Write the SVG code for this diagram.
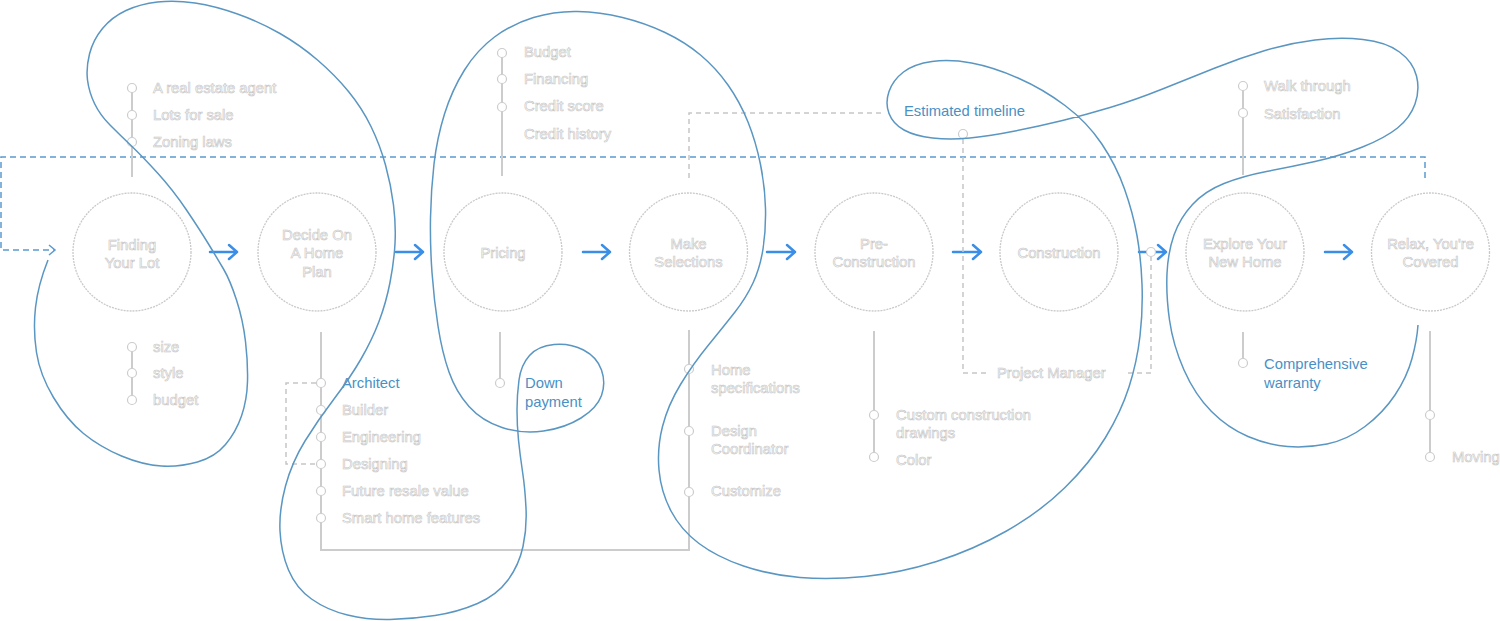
<svg xmlns="http://www.w3.org/2000/svg" width="1500" height="621" viewBox="0 0 1500 621">
<defs>
<style>
.t{font-family:"Liberation Sans",Arial,sans-serif;font-size:14.8px;fill:#fff;stroke:#c4c4c4;stroke-width:0.6px}
.b{font-family:"Liberation Sans",Arial,sans-serif;font-size:14.8px;fill:#4a90c5}
.c{text-anchor:middle}
.node{fill:none;stroke:#c9c9c9;stroke-width:1.3;stroke-dasharray:2 1}
.ln{fill:none;stroke:#cccccc;stroke-width:2}
.dot{fill:#fff;stroke:#cccccc;stroke-width:1.2}
.gd{fill:none;stroke:#c6c6c6;stroke-width:1.5;stroke-dasharray:5 4}
.bd{fill:none;stroke:#5b9bd0;stroke-width:1.5;stroke-dasharray:6 4}
.ar{fill:none;stroke:#3a8ee8;stroke-width:2.5;stroke-linecap:round;stroke-linejoin:round}
.blob{fill:none;stroke:#5a96c2;stroke-width:1.5}
</style>
</defs>
<rect width="1500" height="621" fill="#fff"/>

<g id="connectors">
<path class="bd" d="M1425,178 V157 H1 V250 H54"/>
<path fill="none" stroke="#5b9bd0" stroke-width="1.5" d="M49,245 L55,250 L49,255"/>
<path class="ar" d="M210,252 H237 M229,245 L237,252 L229,259"/>
<path class="ar" d="M396,252 H423 M415,245 L423,252 L415,259"/>
<path class="ar" d="M583,252 H610 M602,245 L610,252 L602,259"/>
<path class="ar" d="M767,252 H795 M787,245 L795,252 L787,259"/>
<path class="ar" d="M953,252 H981 M973,245 L981,252 L973,259"/>
<path class="ar" d="M1139,252 H1166 M1158,245 L1166,252 L1158,259"/>
<path class="ar" d="M1325,252 H1352 M1344,245 L1352,252 L1344,259"/>
<path class="gd" d="M689,178 V113 H885"/>
<path class="gd" d="M963,139 V373 H987"/>
<path class="gd" d="M1128,373 H1151 V257"/>
<circle class="dot" cx="963" cy="134" r="4.5"/>
<circle class="dot" cx="1151" cy="252" r="4.5"/>
<path class="gd" d="M316,383 H286 V464 H316"/>
<path class="ln" d="M321,332 V550 H689 V330"/>
</g>

<g id="n1">
<circle class="node" cx="132" cy="252" r="59"/>
<text class="t c" x="132" y="250">Finding</text>
<text class="t c" x="132" y="268">Your Lot</text>
<path class="ln" d="M132,88 V177"/>
<circle class="dot" cx="132" cy="88" r="4.5"/><circle class="dot" cx="132" cy="115" r="4.5"/><circle class="dot" cx="132" cy="142" r="4.5"/>
<text class="t" x="153" y="93">A real estate agent</text>
<text class="t" x="153" y="120">Lots for sale</text>
<text class="t" x="153" y="147">Zoning laws</text>
<path class="ln" d="M132,347 V400"/>
<circle class="dot" cx="132" cy="347" r="4.5"/><circle class="dot" cx="132" cy="373" r="4.5"/><circle class="dot" cx="132" cy="400" r="4.5"/>
<text class="t" x="153" y="352">size</text>
<text class="t" x="153" y="378">style</text>
<text class="t" x="153" y="405">budget</text>
</g>

<g id="n2">
<circle class="node" cx="317" cy="252" r="59"/>
<text class="t c" x="317" y="240">Decide On</text>
<text class="t c" x="317" y="258">A Home</text>
<text class="t c" x="317" y="277">Plan</text>
<circle class="dot" cx="321" cy="383" r="4.5"/><circle class="dot" cx="321" cy="410" r="4.5"/><circle class="dot" cx="321" cy="437" r="4.5"/>
<circle class="dot" cx="321" cy="464" r="4.5"/><circle class="dot" cx="321" cy="491" r="4.5"/><circle class="dot" cx="321" cy="518" r="4.5"/>
<text class="b" x="342" y="388">Architect</text>
<text class="t" x="342" y="415">Builder</text>
<text class="t" x="342" y="442">Engineering</text>
<text class="t" x="342" y="469">Designing</text>
<text class="t" x="342" y="496">Future resale value</text>
<text class="t" x="342" y="523">Smart home features</text>
</g>

<g id="n3">
<circle class="node" cx="503" cy="252" r="59"/>
<text class="t c" x="503" y="258">Pricing</text>
<path class="ln" d="M502,53 V176"/>
<circle class="dot" cx="502" cy="53" r="4.5"/><circle class="dot" cx="502" cy="79" r="4.5"/><circle class="dot" cx="502" cy="107" r="4.5"/>
<text class="t" x="524" y="57">Budget</text>
<text class="t" x="524" y="84">Financing</text>
<text class="t" x="524" y="111">Credit score</text>
<text class="t" x="524" y="139">Credit history</text>
<path class="ln" d="M500,332 V379"/>
<circle class="dot" cx="500" cy="383" r="4.5"/>
<text class="b" x="525" y="388">Down</text>
<text class="b" x="525" y="407">payment</text>
</g>

<g id="n4">
<circle class="node" cx="688.5" cy="252" r="59"/>
<text class="t c" x="688.5" y="249">Make</text>
<text class="t c" x="688.5" y="267">Selections</text>
<circle class="dot" cx="689" cy="369" r="4.5"/><circle class="dot" cx="689" cy="431" r="4.5"/><circle class="dot" cx="689" cy="492" r="4.5"/>
<text class="t" x="711" y="375">Home</text>
<text class="t" x="711" y="393">specifications</text>
<text class="t" x="711" y="436">Design</text>
<text class="t" x="711" y="454">Coordinator</text>
<text class="t" x="711" y="496">Customize</text>
<text class="b" x="904" y="116">Estimated timeline</text>
</g>

<g id="n5">
<circle class="node" cx="874" cy="252" r="59"/>
<text class="t c" x="874" y="249">Pre-</text>
<text class="t c" x="874" y="267">Construction</text>
<path class="ln" d="M874,331 V457"/>
<circle class="dot" cx="874" cy="415" r="4.5"/><circle class="dot" cx="874" cy="457" r="4.5"/>
<text class="t" x="896" y="420">Custom construction</text>
<text class="t" x="896" y="438">drawings</text>
<text class="t" x="896" y="465">Color</text>
</g>

<g id="n6">
<circle class="node" cx="1059" cy="252" r="59"/>
<text class="t c" x="1059" y="258">Construction</text>
<text class="t" x="997" y="378">Project Manager</text>
</g>

<g id="n7">
<circle class="node" cx="1245" cy="252" r="59"/>
<text class="t c" x="1245" y="249">Explore Your</text>
<text class="t c" x="1245" y="267">New Home</text>
<path class="ln" d="M1243,86 V175"/>
<circle class="dot" cx="1243" cy="86" r="4.5"/><circle class="dot" cx="1243" cy="113" r="4.5"/>
<text class="t" x="1264" y="91">Walk through</text>
<text class="t" x="1264" y="119">Satisfaction</text>
<path class="ln" d="M1243,332 V359"/>
<circle class="dot" cx="1243" cy="363" r="4.5"/>
<text class="b" x="1264" y="369">Comprehensive</text>
<text class="b" x="1264" y="388">warranty</text>
</g>

<g id="n8">
<circle class="node" cx="1430.5" cy="252" r="59"/>
<text class="t c" x="1430.5" y="249">Relax, You're</text>
<text class="t c" x="1430.5" y="267">Covered</text>
<path class="ln" d="M1430,331 V457"/>
<circle class="dot" cx="1430" cy="415" r="4.5"/><circle class="dot" cx="1430" cy="457" r="4.5"/>
<text class="t" x="1452" y="462">Moving</text>
</g>

<g id="outline">
<path class="blob" d="M48,260 Q38,285 35.5,307.5 Q33,330 36.5,352.5 Q40,375 53.5,397.5 Q67,420 83.5,433.5 Q100,447 121.5,456 Q143,465 161.5,466 Q180,467 197.5,462 Q215,457 225.5,444.5 Q236,432 241.5,416 Q247,400 247.5,381.5 Q248,363 245.5,341.5 Q243,320 236.5,300 Q230,280 223.5,269 Q217,258 208.5,244 Q200,230 186.5,210 Q173,190 158,173.5 Q143,157 131.5,146 Q120,135 110,125 Q100,115 94.5,103.5 Q89,92 87.5,80 Q86,68 89.5,54 Q93,40 102.5,28.5 Q112,17 126,10.5 Q140,4 157.5,2 Q175,0 195,3 Q215,6 237.5,14 Q260,22 280,33.5 Q300,45 317.5,60 Q335,75 348.5,91.5 Q362,108 371,126.5 Q380,145 385.5,165 Q391,185 393.5,205 Q396,225 395,243.5 Q394,262 390,282.5 Q386,303 379,321.5 Q372,340 361,359 Q350,378 334,399 Q318,420 305,441 Q292,462 285.5,486 Q279,510 280,531 Q281,552 288.5,570 Q296,588 311.5,599 Q327,610 347.5,615 Q368,620 390,619.5 Q412,619 435,615.5 Q458,612 477.5,603.5 Q497,595 508,580 Q519,565 523,546.5 Q527,528 526,508 Q525,488 522.5,471.5 Q520,455 518.5,440 Q517,425 517,410 Q517,395 519,380 Q521,365 529.5,355.5 Q538,346 554,344.5 Q570,343 583.5,350 Q597,357 601.5,370 Q606,383 601.5,395.5 Q597,408 581,418 Q565,428 543.5,431 Q522,434 502,427.5 Q482,421 469,406.5 Q456,392 449,372 Q442,352 438,326 Q434,300 432,272.5 Q430,245 430.5,217.5 Q431,190 434,164 Q437,138 444.5,114 Q452,90 464.5,70 Q477,50 494.5,37 Q512,24 533.5,17.5 Q555,11 577.5,11.5 Q600,12 622.5,17.5 Q645,23 665,32.5 Q685,42 700.5,55 Q716,68 728,85 Q740,102 748,122 Q756,142 760.5,164.5 Q765,187 765.5,208.5 Q766,230 763,249 Q760,268 753,283 Q746,298 735,312 Q724,326 708.5,345 Q693,364 680.5,384.5 Q668,405 662.5,426.5 Q657,448 659,470 Q661,492 671,511 Q681,530 699,543.5 Q717,557 743.5,566 Q770,575 800,577.5 Q830,580 865,576.5 Q900,573 936.5,561.5 Q973,550 1006.5,531 Q1040,512 1065,487.5 Q1090,463 1105.5,437.5 Q1121,412 1129,387 Q1137,362 1140,336 Q1143,310 1142,284 Q1141,258 1137,235.5 Q1133,213 1124.5,189 Q1116,165 1101.5,143.5 Q1087,122 1065,105.5 Q1043,89 1018,78 Q993,67 971.5,63 Q950,59 932,61.5 Q914,64 903.5,72 Q893,80 889,91.5 Q885,103 889,113.5 Q893,124 904,130 Q915,136 932.5,138 Q950,140 970,138 Q990,136 1015,131 Q1040,126 1062.5,120.5 Q1085,115 1110,107.5 Q1135,100 1162.5,89 Q1190,78 1215,68 Q1240,58 1265,50.5 Q1290,43 1315,40 Q1340,37 1363,39.5 Q1386,42 1399.5,52 Q1413,62 1416.5,76 Q1420,90 1415,104 Q1410,118 1397.5,128 Q1385,138 1362.5,147 Q1340,156 1315,161.5 Q1290,167 1266.5,171.5 Q1243,176 1224,183.5 Q1205,191 1192.5,204.5 Q1180,218 1174,235 Q1168,252 1167,273.5 Q1166,295 1169.5,320 Q1173,345 1184,370 Q1195,395 1211.5,411.5 Q1228,428 1248,436.5 Q1268,445 1287.5,446.5 Q1307,448 1327,444 Q1347,440 1365,426.5 Q1383,413 1395,395 Q1407,377 1412,358.5 Q1417,340 1418,325"/>
</g>
</svg>
